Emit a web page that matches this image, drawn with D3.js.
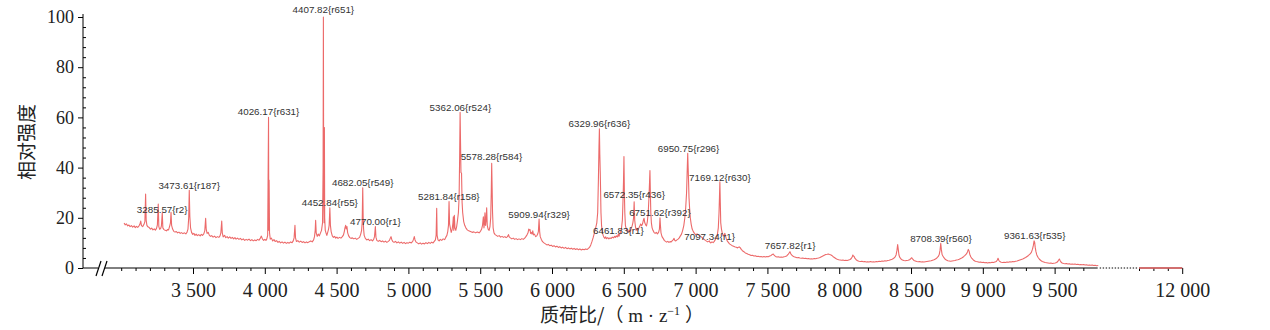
<!DOCTYPE html>
<html><head><meta charset="utf-8">
<script src="https://cdn.jsdelivr.net/npm/d3@7"></script>
<style>body{margin:0;background:#fff}svg{display:block}</style>
</head><body>
<svg id="c" width="1270" height="330"></svg>
<script>
// ---------------- DATA ----------------
// spectrum points [m/z, relative intensity]
const spectrum = [
[3020,17.9],[3028,17.2],[3036,17.6],[3045,16.8],[3054,17.1],[3062,16.5],[3071,16.9],[3080,16.3],[3090,16.8],[3098,16.1],[3106,16.6],[3115,16.2],[3124,16.8],[3130,17.4],[3136,18.7],[3141,16.9],[3150,16.5],[3158,17.3],[3165,18.5],[3170,29.5],[3174,19],[3179,17],[3186,16.4],[3195,16.1],[3204,15.5],[3212,15.9],[3221,15.2],[3230,15.6],[3238,15.1],[3246,15.8],[3252,17.2],[3258,25.5],[3262,16.5],[3268,15.4],[3275,15.8],[3280,16.8],[3286,22],[3290,16],[3298,15.3],[3306,15.0],[3315,14.8],[3322,15.3],[3330,15.2],[3338,16.8],[3343,18],[3347,22.2],[3351,17],[3358,15.5],[3366,14.6],[3375,14.3],[3384,14.5],[3393,14.0],[3402,14.3],[3411,13.8],[3420,14.1],[3430,13.7],[3440,14.0],[3450,13.6],[3458,14.2],[3465,15.5],[3470,20],[3474,31],[3478,20.5],[3483,16],[3490,14.2],[3498,13.4],[3506,13.8],[3514,13.0],[3522,13.5],[3530,12.9],[3540,13.3],[3550,12.8],[3558,13.4],[3566,13.0],[3575,13.6],[3582,14.8],[3588,19.8],[3592,15.5],[3598,13.8],[3606,14.2],[3614,13.0],[3622,12.6],[3630,12.9],[3640,12.3],[3650,12.7],[3660,12.1],[3670,12.5],[3680,12.2],[3688,12.8],[3694,14],[3700,18.7],[3704,14],[3710,12.4],[3720,13.0],[3728,12.1],[3738,12.5],[3746,11.9],[3756,12.4],[3765,11.8],[3774,12.2],[3783,11.6],[3792,12.1],[3800,11.5],[3810,11.9],[3820,11.4],[3830,11.8],[3840,11.2],[3850,11.6],[3860,11.0],[3870,11.4],[3880,11.1],[3890,11.5],[3900,10.9],[3910,11.3],[3920,10.8],[3930,11.2],[3940,10.9],[3950,11.4],[3960,11.1],[3968,11.8],[3976,12.7],[3984,11.5],[3992,11.0],[4000,11.4],[4008,11.0],[4014,11.6],[4020,13],[4026,60],[4028,15],[4030,35],[4033,14],[4038,11.5],[4046,11.9],[4055,10.8],[4064,11.3],[4072,10.6],[4082,10.9],[4092,10.2],[4100,10.6],[4110,10.0],[4120,10.4],[4130,9.9],[4140,10.3],[4150,9.8],[4160,10.2],[4170,9.9],[4180,10.4],[4190,10.1],[4198,10.8],[4204,12],[4210,17],[4214,12],[4220,10.6],[4230,10.9],[4240,10.3],[4250,10.7],[4260,10.2],[4270,10.5],[4280,10.0],[4290,10.4],[4300,10.1],[4310,10.5],[4320,10.8],[4330,10.4],[4340,11.2],[4346,12.5],[4351,15],[4354,19],[4358,14],[4365,12.6],[4372,13.5],[4380,12.8],[4388,14],[4395,15],[4402,18],[4406,40],[4408,100],[4410,30],[4413,18],[4415,56],[4417,20],[4421,15],[4426,14],[4432,13],[4438,14.2],[4444,15.5],[4448,17],[4453,24],[4457,17],[4462,14.5],[4470,12.8],[4478,12.2],[4486,12.6],[4494,11.9],[4502,12.3],[4510,11.8],[4520,12.2],[4530,11.9],[4540,12.5],[4548,13.2],[4554,14.6],[4558,16],[4563,17],[4567,15.6],[4572,16.5],[4577,14],[4584,12.8],[4592,12.1],[4600,11.8],[4610,12.0],[4620,11.6],[4630,11.9],[4640,11.4],[4650,11.8],[4660,12.2],[4668,13.5],[4674,15],[4678,18],[4682,32],[4685,20],[4688,15.5],[4692,13],[4700,11.8],[4710,11.2],[4720,11.5],[4730,10.9],[4740,11.3],[4750,10.8],[4758,11.4],[4764,12.5],[4770,16.5],[4774,12.3],[4780,11.0],[4790,10.6],[4800,11.0],[4810,10.5],[4820,10.8],[4830,10.3],[4840,10.7],[4850,10.2],[4860,10.6],[4868,11.0],[4874,11.9],[4879,12.5],[4884,11.4],[4892,10.5],[4900,10.2],[4910,10.6],[4920,10.0],[4930,10.4],[4940,9.9],[4950,10.3],[4960,9.8],[4970,10.2],[4980,9.7],[4990,10.1],[5000,9.9],[5010,10.3],[5020,10.0],[5030,10.6],[5036,11.5],[5041,12.5],[5046,11.2],[5054,10.3],[5062,10.0],[5072,9.6],[5082,10.0],[5092,9.5],[5102,9.9],[5112,9.6],[5122,10.1],[5132,9.7],[5142,10.2],[5152,9.8],[5162,10.3],[5172,10.0],[5180,10.6],[5188,11.2],[5193,13],[5197,23.8],[5200,13],[5206,11.2],[5214,10.8],[5222,11.4],[5232,11.0],[5242,11.6],[5252,11.3],[5260,12.2],[5268,13.0],[5274,14.5],[5279,17],[5283,26.5],[5287,17.5],[5292,16],[5298,14.2],[5305,15.5],[5310,18],[5313,20.4],[5316,15],[5320,21],[5324,16],[5330,15],[5336,16.5],[5342,19],[5348,22],[5353,28],[5357,45],[5360,62],[5363,50],[5366,38],[5370,37.8],[5374,26],[5378,22],[5385,18.5],[5392,17],[5400,16],[5410,15.2],[5420,14.8],[5432,14.5],[5444,14.2],[5456,14.4],[5468,14.0],[5480,14.3],[5492,14.0],[5502,14.6],[5510,15.5],[5516,17],[5522,20.4],[5526,16],[5530,18],[5533,22],[5537,17],[5541,19],[5545,24],[5549,17],[5555,15.5],[5562,15],[5568,16.5],[5573,20],[5577,30],[5580,41.7],[5583,32],[5586,22],[5590,16],[5596,14],[5604,13.3],[5612,13.0],[5622,12.6],[5632,12.9],[5642,12.3],[5652,12.6],[5662,12.2],[5672,12.5],[5680,12.1],[5688,12.4],[5693,12.8],[5697,13.3],[5702,12.4],[5710,12.0],[5720,11.6],[5730,11.9],[5740,11.4],[5750,11.7],[5760,11.3],[5770,11.6],[5780,11.3],[5790,11.7],[5800,11.4],[5810,11.9],[5818,12.5],[5826,13.2],[5833,14],[5838,15.5],[5843,15.1],[5847,15.3],[5851,13.8],[5856,14.2],[5861,13.5],[5866,14.8],[5871,13.2],[5878,13.5],[5886,12.5],[5894,12.8],[5900,13.5],[5905,14.5],[5910,19.5],[5914,14.5],[5918,12.5],[5925,11.5],[5934,10.5],[5944,10.0],[5954,9.6],[5964,9.2],[5974,9.4],[5984,8.9],[5994,9.1],[6004,8.6],[6014,8.9],[6024,8.4],[6034,8.7],[6044,8.2],[6054,8.5],[6064,8.0],[6074,8.3],[6084,7.8],[6094,8.2],[6104,7.7],[6114,8.0],[6124,7.6],[6134,7.9],[6144,7.5],[6154,7.8],[6164,7.4],[6174,7.7],[6184,7.3],[6194,7.6],[6204,7.2],[6214,7.5],[6224,7.3],[6234,7.6],[6244,7.4],[6254,7.8],[6262,8.3],[6270,9.2],[6278,10.5],[6286,12],[6293,13.5],[6300,15.1],[6306,16.5],[6312,18],[6318,22],[6323,35],[6327,48],[6330,55.5],[6333,45],[6336,38],[6338,32],[6341,22],[6345,17],[6350,14.5],[6356,13],[6362,12.2],[6368,11.8],[6374,12.4],[6380,11.7],[6388,12.1],[6396,11.6],[6404,12.0],[6412,11.8],[6420,12.3],[6428,12.0],[6436,12.6],[6442,12.2],[6448,12.8],[6455,12.4],[6462,13.5],[6466,12.6],[6472,13.5],[6478,14.5],[6484,16],[6490,19],[6495,28],[6498,35],[6501,44.4],[6504,30],[6507,22],[6511,17],[6516,15.8],[6522,14.8],[6528,15.2],[6534,14.2],[6540,15],[6546,14.5],[6552,15.8],[6558,16.8],[6563,18],[6568,20],[6572,26.4],[6576,19],[6581,16.5],[6586,15],[6592,15.8],[6598,15],[6604,15.8],[6610,16.5],[6617,17.5],[6624,16.8],[6630,17.5],[6636,19],[6641,19.8],[6646,18],[6652,17.2],[6658,16.8],[6664,18.5],[6670,22],[6675,28],[6679,34],[6682,38.8],[6685,30],[6688,22],[6692,18],[6697,16],[6703,15],[6710,14.2],[6718,13.8],[6726,14.2],[6734,13.6],[6742,14.2],[6748,15.5],[6752,20],[6755,17],[6759,14],[6766,12.5],[6774,11.8],[6782,11.0],[6790,10.6],[6798,10.3],[6806,10.6],[6814,10.2],[6822,10.5],[6830,10.4],[6838,10.9],[6845,11.3],[6850,11.8],[6855,11],[6862,10.8],[6870,11.2],[6878,11.5],[6886,12],[6894,12.8],[6902,13.5],[6910,15],[6918,17],[6925,20],[6931,24],[6937,30],[6941,38],[6945,45.7],[6948,40],[6951,34.4],[6954,28],[6958,24],[6963,20],[6969,17.5],[6976,15.5],[6984,14.5],[6992,13.8],[7000,13.3],[7010,13.6],[7020,13.1],[7030,12.8],[7040,12.4],[7050,11.8],[7060,11.4],[7068,11.0],[7076,10.7],[7084,10.4],[7090,10.6],[7096,10.8],[7100,10.2],[7106,10.0],[7114,10.4],[7122,10.1],[7130,10.6],[7138,11.4],[7145,12.2],[7152,13.5],[7158,16],[7163,22],[7166,28],[7169,34.3],[7172,26],[7175,18],[7180,15.5],[7186,13.8],[7192,12.8],[7198,13.2],[7204,13.8],[7208,12.8],[7214,11.6],[7220,10.8],[7228,10.2],[7236,9.6],[7244,9.3],[7252,9.0],[7260,8.8],[7268,8.6],[7276,8.4],[7284,8.3],[7292,8.0],[7298,8.3],[7304,8.4],[7310,8.1],[7318,7.4],[7326,6.9],[7336,6.5],[7346,6.0],[7356,5.8],[7366,5.5],[7376,5.3],[7386,5.0],[7396,5.1],[7406,4.8],[7416,4.9],[7426,4.6],[7436,4.7],[7446,4.5],[7456,4.6],[7466,4.4],[7476,4.6],[7486,4.4],[7496,4.6],[7506,4.5],[7516,4.8],[7526,5.0],[7534,5.4],[7541,5.6],[7548,5.0],[7556,4.6],[7566,4.4],[7576,4.5],[7586,4.3],[7596,4.4],[7606,4.3],[7616,4.5],[7626,4.6],[7636,4.9],[7644,5.4],[7650,5.9],[7657,6.5],[7662,5.8],[7668,5.2],[7676,4.8],[7686,4.5],[7696,4.3],[7706,4.1],[7716,4.2],[7726,4.0],[7736,3.9],[7746,4.0],[7756,3.8],[7766,3.9],[7776,3.7],[7786,3.8],[7796,3.6],[7806,3.7],[7816,3.6],[7826,3.8],[7836,3.7],[7846,3.9],[7856,4.0],[7866,4.2],[7876,4.5],[7886,4.8],[7896,5.1],[7906,5.4],[7916,5.5],[7924,5.6],[7932,5.4],[7940,5.3],[7948,5.0],[7956,4.6],[7966,4.2],[7976,3.8],[7986,3.5],[7996,3.3],[8006,3.2],[8016,3.1],[8026,3.2],[8036,3.0],[8046,3.1],[8056,3.0],[8066,3.2],[8076,3.4],[8084,3.8],[8090,4.4],[8095,5.2],[8099,4.8],[8104,4.6],[8110,3.8],[8118,3.3],[8128,2.9],[8138,2.7],[8148,2.6],[8158,2.7],[8168,2.5],[8178,2.6],[8188,2.4],[8198,2.5],[8208,2.4],[8218,2.6],[8228,2.4],[8238,2.5],[8248,2.4],[8258,2.6],[8268,2.5],[8278,2.7],[8288,2.6],[8298,2.8],[8308,2.7],[8318,2.9],[8328,2.8],[8338,3.0],[8348,3.1],[8358,3.3],[8368,3.5],[8378,3.8],[8388,4.3],[8396,5.2],[8402,7],[8407,9.3],[8411,7.5],[8416,5.2],[8422,4.2],[8430,3.6],[8440,3.2],[8450,3.0],[8460,2.9],[8470,3.0],[8480,3.1],[8490,3.3],[8498,3.7],[8505,4.1],[8512,3.5],[8520,3.0],[8530,2.8],[8540,2.6],[8550,2.5],[8560,2.6],[8570,2.4],[8580,2.5],[8590,2.4],[8600,2.5],[8610,2.6],[8620,2.7],[8630,2.8],[8640,2.9],[8650,3.1],[8660,3.3],[8670,3.6],[8680,4.0],[8690,4.6],[8697,5.5],[8702,7],[8707,9.8],[8711,7.5],[8716,5.5],[8722,4.8],[8728,4.2],[8736,3.6],[8746,3.2],[8756,2.9],[8766,2.8],[8776,2.7],[8786,2.8],[8796,2.9],[8806,3.0],[8816,3.2],[8826,3.3],[8836,3.5],[8846,3.8],[8856,4.1],[8866,4.5],[8876,5.0],[8886,5.6],[8893,6.4],[8899,7.4],[8904,6.8],[8909,5.5],[8916,4.5],[8924,3.8],[8934,3.2],[8944,2.8],[8954,2.6],[8964,2.5],[8974,2.3],[8984,2.4],[8994,2.2],[9004,2.3],[9014,2.1],[9024,2.2],[9034,2.0],[9044,2.2],[9054,2.1],[9064,2.3],[9074,2.2],[9084,2.4],[9094,2.6],[9101,3.2],[9106,3.9],[9111,3.1],[9118,2.6],[9128,2.3],[9138,2.2],[9148,2.3],[9158,2.2],[9168,2.4],[9178,2.3],[9188,2.5],[9198,2.4],[9208,2.6],[9218,2.5],[9228,2.7],[9238,2.8],[9248,3.0],[9258,3.2],[9268,3.4],[9278,3.6],[9288,3.9],[9298,4.2],[9308,4.6],[9318,5.0],[9328,5.5],[9338,6.2],[9346,7.5],[9352,9],[9357,10.8],[9361,10.2],[9365,8.2],[9370,6.5],[9376,5.2],[9384,4.3],[9394,3.5],[9404,3.0],[9414,2.6],[9424,2.4],[9434,2.2],[9444,2.1],[9454,2.0],[9464,1.9],[9474,2.0],[9484,1.8],[9494,1.9],[9504,2.0],[9514,2.2],[9522,2.6],[9528,3.2],[9533,3.6],[9538,3.0],[9544,2.4],[9552,2.0],[9562,1.8],[9572,1.7],[9582,1.8],[9592,1.6],[9602,1.7],[9612,1.5],[9622,1.6],[9632,1.5],[9642,1.6],[9652,1.4],[9662,1.5],[9672,1.3],[9682,1.4],[9692,1.3],[9702,1.4],[9712,1.2],[9722,1.3],[9732,1.1],[9742,1.2],[9752,1.1],[9762,1.2],[9772,1.0],[9782,1.1],[9792,0.9],[9804,1.0]
];
// points in the section after the axis break
const tailSpectrum = [[11700,0],[12000,0]];

// peak annotations
const labelMz     = [3285.57,3473.61,4026.17,4407.82,4452.84,4682.05,4770.00,5281.84,5362.06,5578.28,5909.94,6329.96,6461.83,6572.35,6751.62,6950.75,7097.34,7169.12,7657.82,8708.39,9361.63];
const labelRank   = ["r2","r187","r631","r651","r55","r549","r1","r158","r524","r584","r329","r636","r1","r436","r392","r296","r1","r630","r1","r560","r535"];
const labelHeight = [21.3,30.7,60.0,100.7,23.9,31.9,16.5,26.3,61.9,42.2,19.0,55.3,12.6,27.0,19.9,45.6,10.4,33.9,6.7,9.7,10.6];

// axis ticks
const yMajorTicks = [0,20,40,60,80,100];
const yMinorTicks = [4,8,12,16,24,28,32,36,44,48,52,56,64,68,72,76,84,88,92,96];
const xMajorTicks = [3500,4000,4500,5000,5500,6000,6500,7000,7500,8000,8500,9000,9500];
const xMajorLabels = ["3 500","4 000","4 500","5 000","5 500","6 000","6 500","7 000","7 500","8 000","8 500","9 000","9 500"];
const xMinorTicks = [3000,3100,3200,3300,3400,3600,3700,3800,3900,4100,4200,4300,4400,4600,4700,4800,4900,5100,5200,5300,5400,5600,5700,5800,5900,6100,6200,6300,6400,6600,6700,6800,6900,7100,7200,7300,7400,7600,7700,7800,7900,8100,8200,8300,8400,8600,8700,8800,8900,9100,9200,9300,9400,9600,9700];
const tailMajorTicks = [12000];
const tailMajorLabels = ["12 000"];
const tailMinorTicks = [11700,11800,11900];

const yTitle = "相对强度";
const xTitleMain = "（ m · z";
const xTitleSup = "−1";
const xTitleEnd = " ）";

// ---------------- LAYOUT ----------------
const axisX = 83, axisY = 268, topY = 17;
const mainLeft = 121.2, mainRight = 1097.7, tailLeft = 1139, tailRight = 1182.2;
const lineColor = "#ec6a6a";
const serif = "'Liberation Serif','Times New Roman',serif";

const svg = d3.select("#c");
const x = d3.scaleLinear().domain([3000, 9800]).range([mainLeft, mainRight]);
const x2 = d3.scaleLinear().domain([11700, 12000]).range([tailLeft, tailRight]);
const y = d3.scaleLinear().domain([0, 100]).range([axisY, topY]);

// spectrum line
const line = d3.line().x(d => x(d[0])).y(d => y(d[1]));
svg.append("path").datum(spectrum).attr("d", line)
  .attr("fill", "none").attr("stroke", lineColor).attr("stroke-width", 1.1).attr("stroke-linejoin","round");

// y axis
const gy = svg.append("g").attr("transform", `translate(${axisX},0)`);
gy.call(d3.axisLeft(y).tickValues(yMajorTicks).tickSize(5).tickPadding(4));
gy.append("g").call(d3.axisRight(y).tickValues(yMinorTicks).tickSize(3).tickFormat(""));
gy.selectAll(".domain").remove();
gy.append("line").attr("x1",0).attr("x2",0).attr("y1",topY-3).attr("y2",axisY).attr("stroke","#000");
gy.selectAll("text").attr("font-family", serif).attr("font-size", 18).attr("fill","#222");

// x axis (main)
const gx = svg.append("g").attr("transform", `translate(0,${axisY})`);
gx.call(d3.axisBottom(x).tickValues(xMajorTicks).tickSize(6).tickPadding(9).tickFormat((d,i) => xMajorLabels[i]));
gx.append("g").call(d3.axisBottom(x).tickValues(xMinorTicks).tickSize(3).tickFormat(""));
gx.selectAll(".domain").remove();
gx.selectAll("text").attr("font-family", serif).attr("font-size", 20).attr("fill","#222");
gx.append("line").attr("x1",axisX).attr("x2",98).attr("y1",0).attr("y2",0).attr("stroke","#000");
gx.append("line").attr("x1",105).attr("x2",mainRight).attr("y1",0).attr("y2",0).attr("stroke","#000");
// break marks
[[96,101],[102,107]].forEach(([a,b]) => {
  gx.append("line").attr("x1",a).attr("y1",8).attr("x2",b).attr("y2",-7).attr("stroke","#000").attr("stroke-width",1.2);
});
// dotted gap
gx.append("line").attr("x1",mainRight+2).attr("x2",tailLeft-1).attr("y1",0).attr("y2",0)
  .attr("stroke","#000").attr("stroke-dasharray","1.4,1.6");

// x axis (tail)
const gx2 = svg.append("g").attr("transform", `translate(0,${axisY})`);
gx2.call(d3.axisBottom(x2).tickValues(tailMajorTicks).tickSize(6).tickPadding(9).tickFormat((d,i) => tailMajorLabels[i]));
gx2.append("g").call(d3.axisBottom(x2).tickValues(tailMinorTicks).tickSize(3).tickFormat(""));
gx2.selectAll(".domain").remove();
gx2.selectAll("text").attr("font-family", serif).attr("font-size", 20).attr("fill","#222");
gx2.append("line").attr("x1",tailLeft).attr("x2",tailRight).attr("y1",0).attr("y2",0).attr("stroke","#000");
const line2 = d3.line().x(d => x2(d[0])).y(d => y(d[1]));
svg.append("path").datum(tailSpectrum).attr("d", line2).attr("fill","none").attr("stroke", lineColor).attr("stroke-width",1.3);

// peak labels
svg.append("g").selectAll("text").data(labelMz).join("text")
  .attr("x", d => x(d)).attr("y", (d,i) => y(labelHeight[i]) - 2)
  .attr("text-anchor","middle")
  .attr("font-family","'Liberation Sans',Arial,sans-serif").attr("font-size", 9.8).attr("fill","#333")
  .text((d,i) => d.toFixed(2) + "{" + labelRank[i] + "}");

// titles
svg.append("text").attr("transform","translate(34,142) rotate(-90)")
  .attr("text-anchor","middle").attr("font-family","'Noto Sans CJK SC',sans-serif").attr("font-size",19).attr("fill","#222")
  .text(yTitle);
const xt = svg.append("text").attr("x", 622).attr("y", 322).attr("text-anchor","middle")
  .attr("font-family", serif + ",'Noto Sans CJK SC'").attr("font-size",19).attr("fill","#222");
xt.append("tspan").attr("font-family","'Noto Sans CJK SC',sans-serif").text("质荷比/");
xt.append("tspan").text(xTitleMain);
xt.append("tspan").attr("font-size",12).attr("dy",-7).text(xTitleSup);
xt.append("tspan").attr("dy",7).text(xTitleEnd);
</script>
</body></html>
